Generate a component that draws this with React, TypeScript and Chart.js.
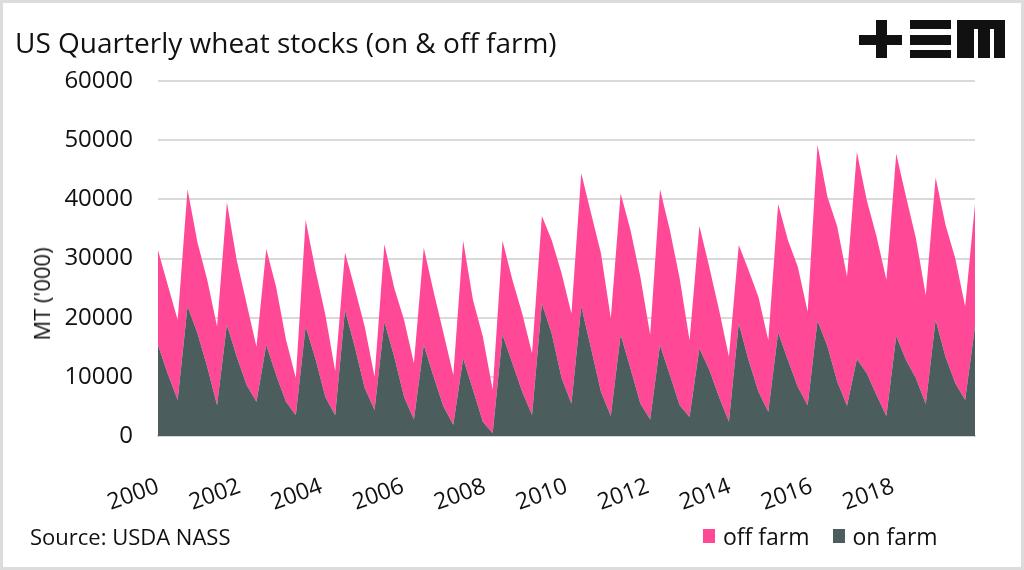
import React, { useEffect, useRef } from "react";
import { Chart, registerables } from "chart.js";

Chart.register(...registerables);

const quarters: string[] = [];
for (let y = 2000; y <= 2020; y++) for (let q = 1; q <= 4; q++) quarters.push(`${y} Q${q}`);

const xTickLabels = ["2000", "2002", "2004", "2006", "2008", "2010", "2012", "2014", "2016", "2018"];
const yTicks = [0, 10000, 20000, 30000, 40000, 50000, 60000];

const onFarm = [
  15400, 10500, 6100, 21900, 17400, 11700, 5200, 18800, 13400, 8600, 5800, 15400,
  10300, 5800, 3500, 18500, 13000, 6600, 3500, 21300, 15000, 8100, 4400, 19300,
  13400, 6600, 2800, 15400, 10000, 5000, 1900, 13100, 7800, 2400, 450, 17100,
  12300, 7500, 3550, 22400, 17300, 9800, 5500, 21900, 14800, 7500, 3400, 17100,
  11400, 5500, 2800, 15400, 10300, 5200, 3200, 14800, 11200, 6600, 2400, 19000,
  12800, 7500, 4100, 17500, 12800, 8300, 5200, 19500, 15200, 9200, 5100, 13000,
  10600, 6900, 3400, 16900, 12800, 9750, 5400, 19600, 13400, 8900, 6100, 18500,
];

const offFarm = [
  16000, 15000, 13500, 19800, 15400, 14700, 13300, 20700, 16300, 13800, 9300, 16200,
  14900, 10500, 6300, 18000, 15000, 13900, 7500, 9700, 9900, 10400, 5600, 13100,
  11600, 13000, 9500, 16400, 14400, 12400, 8400, 19900, 15200, 14400, 7350, 15900,
  14100, 13200, 10450, 14800, 15800, 17700, 15200, 22500, 22800, 23400, 16500, 23900,
  23400, 21400, 14300, 26300, 24500, 21400, 13000, 20700, 17400, 14700, 11000, 13300,
  15200, 16000, 12100, 21700, 20300, 20300, 15800, 29700, 25300, 26200, 21800, 35000,
  29300, 26800, 23000, 30800, 27600, 23650, 18400, 24100, 22300, 21100, 15800, 20700,
];

const PINK = "#FF4997";
const DARK = "#4C5D5E";
const FONT = "'Open Sans', sans-serif";

export default function App() {
  const ref = useRef<HTMLCanvasElement | null>(null);

  useEffect(() => {
    document.body.style.margin = "0";
    const ctx = ref.current!.getContext("2d")!;
    const chart = new Chart(ctx, {
      type: "line",
      data: {
        labels: quarters,
        datasets: [
          {
            label: "on farm",
            data: onFarm,
            backgroundColor: DARK,
            borderColor: DARK,
            borderWidth: 0,
            pointRadius: 0,
            fill: "origin",
            tension: 0,
          },
          {
            label: "off farm",
            data: offFarm,
            backgroundColor: PINK,
            borderColor: PINK,
            borderWidth: 0,
            pointRadius: 0,
            fill: "-1",
            tension: 0,
          },
        ],
      },
      options: {
        responsive: false,
        animation: false,
        layout: { padding: { left: 0, right: 49, top: 81, bottom: 34 } },
        plugins: { legend: { display: false }, tooltip: { enabled: false } },
        scales: {
          x: {
            type: "category",
            offset: false,
            grid: { display: false, drawTicks: false },
            border: { display: true, color: "#d6d6d6", width: 2 },
            ticks: { display: false },
            afterFit: (s: any) => {
              s.height = 0;
            },
          },
          years: {
            type: "linear",
            position: "bottom",
            min: 0,
            max: 20,
            grid: { display: false, drawTicks: false },
            border: { display: false },
            afterFit: (s: any) => {
              s.height = 100;
            },
            ticks: {
              stepSize: 2,
              autoSkip: false,
              maxRotation: 20,
              minRotation: 20,
              padding: 37,
              color: "#111",
              font: { family: FONT, size: 23 },
              callback: (v: any) => {
                const k = Math.round(Number(v) / 2);
                return k < xTickLabels.length ? xTickLabels[k] : null;
              },
            },
          },
          y: {
            stacked: true,
            min: 0,
            max: 60000,
            afterFit: (s: any) => {
              s.width = 158;
            },
            afterBuildTicks: (s: any) => {
              s.ticks = yTicks.map((v) => ({ value: v }));
            },
            grid: { color: "#d9d9d9", lineWidth: 2, drawTicks: false },
            border: { display: false },
            ticks: {
              padding: 25,
              color: "#111",
              font: { family: FONT, size: 24 },
              callback: (v: any) => String(v),
            },
          },
        },
      },
    });
    return () => chart.destroy();
  }, []);

  return (
    <div
      style={{
        position: "relative",
        width: 1024,
        height: 570,
        boxSizing: "border-box",
        border: "3px solid #dcdcdc",
        background: "#fff",
        overflow: "hidden",
        fontFamily: FONT,
        color: "#111",
      }}
    >
      <canvas ref={ref} width={1024} height={570} style={{ position: "absolute", left: -3, top: -3 }} />
      <div style={{ position: "absolute", left: 12, top: 25, fontSize: 28, lineHeight: "28px", whiteSpace: "nowrap" }}>
        US Quarterly wheat stocks (on &amp; off farm)
      </div>
      {/* logo */}
      <div style={{ position: "absolute", left: 856, top: 32, width: 43, height: 10, background: "#111" }} />
      <div style={{ position: "absolute", left: 873, top: 17, width: 11, height: 38, background: "#111" }} />
      <div style={{ position: "absolute", left: 907, top: 17, width: 41, height: 9, background: "#111" }} />
      <div style={{ position: "absolute", left: 907, top: 32, width: 41, height: 10, background: "#111" }} />
      <div style={{ position: "absolute", left: 907, top: 47, width: 41, height: 8, background: "#111" }} />
      <div style={{ position: "absolute", left: 954, top: 17, width: 48, height: 9, background: "#111" }} />
      <div style={{ position: "absolute", left: 954, top: 17, width: 17, height: 38, background: "#111" }} />
      <div style={{ position: "absolute", left: 975, top: 17, width: 12, height: 38, background: "#111" }} />
      <div style={{ position: "absolute", left: 991, top: 17, width: 11, height: 38, background: "#111" }} />
      {/* y title */}
      <div
        style={{
          position: "absolute",
          left: 38,
          top: 291,
          fontSize: 22,
          whiteSpace: "nowrap",
          transform: "translate(-50%, -50%) rotate(-90deg)",
        }}
      >
        MT ('000)
      </div>
      <div style={{ position: "absolute", left: 27, top: 518, fontSize: 22, whiteSpace: "nowrap" }}>
        Source: USDA NASS
      </div>
      <div style={{ position: "absolute", left: 700, top: 517, display: "flex", alignItems: "center", fontSize: 23, whiteSpace: "nowrap" }}>
        <span style={{ display: "inline-block", width: 12, height: 14, background: PINK, marginRight: 8 }} />
        <span style={{ marginRight: 23 }}>off farm</span>
        <span style={{ display: "inline-block", width: 12, height: 14, background: DARK, marginRight: 8 }} />
        <span>on farm</span>
      </div>
    </div>
  );
}
